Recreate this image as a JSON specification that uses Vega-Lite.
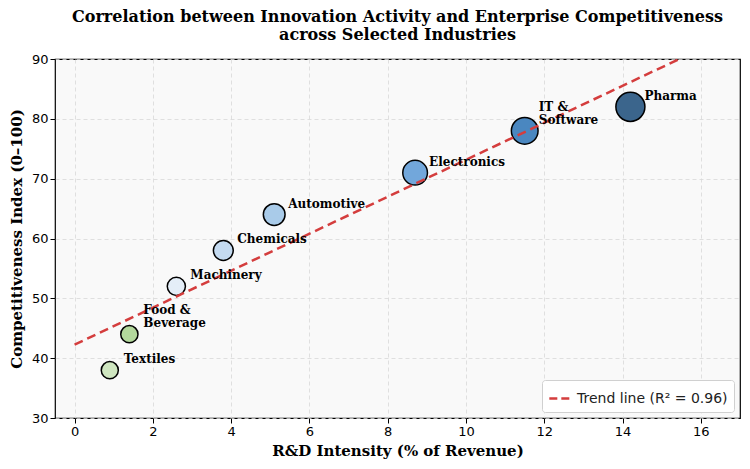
{
  "$schema": "https://vega.github.io/schema/vega-lite/v6.json",
  "description": "Innovation activity vs enterprise competitiveness, bubble chart with trend line.",
  "autosize": {"type": "none"},
  "padding": {"left": 55, "top": 59, "right": 10, "bottom": 51},
  "width": 685,
  "height": 359,
  "background": "white",
  "title": {
    "text": ["Correlation between Innovation Activity and Enterprise Competitiveness", "across Selected Industries"],
    "font": "DejaVu Serif",
    "fontSize": 16,
    "fontWeight": "bold",
    "color": "black",
    "anchor": "middle",
    "offset": 10,
    "lineHeight": 18
  },
  "config": {
    "view": {"stroke": "black", "strokeWidth": 1.2, "fill": "#f9f9f9"},
    "axis": {
      "labelFont": "DejaVu Sans",
      "labelFontSize": 13,
      "labelColor": "black",
      "titleFont": "DejaVu Serif",
      "titleFontSize": 15,
      "titleFontWeight": "bold",
      "titleColor": "black",
      "domain": false,
      "tickColor": "black",
      "tickSize": 5,
      "gridColor": "#d8d8d8",
      "gridDash": [4, 3],
      "gridWidth": 0.8
    },
    "legend": {
      "labelFont": "DejaVu Sans",
      "labelFontSize": 14,
      "labelColor": "#222"
    }
  },
  "data": {
    "values": [
      {"industry": "Textiles", "label": "Textiles", "rd": 0.9, "score": 38, "innovation": 14},
      {"industry": "Food & Beverage", "label": "Food &\nBeverage", "rd": 1.4, "score": 44, "innovation": 15},
      {"industry": "Machinery", "label": "Machinery", "rd": 2.6, "score": 52, "innovation": 20},
      {"industry": "Chemicals", "label": "Chemicals", "rd": 3.8, "score": 58, "innovation": 30},
      {"industry": "Automotive", "label": "Automotive", "rd": 5.1, "score": 64, "innovation": 42},
      {"industry": "Electronics", "label": "Electronics", "rd": 8.7, "score": 71, "innovation": 63},
      {"industry": "IT & Software", "label": "IT &\nSoftware", "rd": 11.5, "score": 78, "innovation": 79},
      {"industry": "Pharma", "label": "Pharma", "rd": 14.2, "score": 82, "innovation": 99}
    ]
  },
  "encoding": {
    "x": {
      "field": "rd",
      "type": "quantitative",
      "title": "R&D Intensity (% of Revenue)",
      "scale": {"domain": [-0.5, 17], "nice": false, "zero": false},
      "axis": {"values": [0, 2, 4, 6, 8, 10, 12, 14, 16], "titlePadding": 5}
    },
    "y": {
      "field": "score",
      "type": "quantitative",
      "title": "Competitiveness Index (0–100)",
      "scale": {"domain": [30, 90], "nice": false, "zero": false},
      "axis": {"values": [30, 40, 50, 60, 70, 80, 90], "titlePadding": 7}
    }
  },
  "layer": [
    {
      "mark": {"type": "circle", "stroke": "black", "strokeWidth": 1.5, "opacity": 1},
      "encoding": {
        "size": {
          "field": "innovation",
          "type": "quantitative",
          "scale": {"domain": [0, 100], "range": [200, 850], "zero": false},
          "legend": null
        },
        "color": {
          "field": "industry",
          "type": "nominal",
          "scale": {
            "domain": ["Textiles", "Food & Beverage", "Machinery", "Chemicals", "Automotive", "Electronics", "IT & Software", "Pharma"],
            "range": ["#cfe6c0", "#b3d89c", "#e4eef8", "#c4daf0", "#a9cbe9", "#72a7db", "#4a87c0", "#3b658c"]
          },
          "legend": null
        }
      }
    },
    {
      "transform": [{"regression": "score", "on": "rd", "extent": [0, 16.5]}],
      "mark": {"type": "line", "strokeWidth": 2.5, "strokeDash": [9, 5], "clip": true},
      "encoding": {
        "color": {
          "datum": "Trend line (R² = 0.96)",
          "type": "nominal",
          "scale": {"range": ["#d43d3d"]},
          "legend": {
            "title": null,
            "orient": "bottom-right",
            "offset": 6,
            "symbolType": "stroke",
            "symbolDash": [8, 4],
            "symbolStrokeWidth": 2.5,
            "symbolSize": 500,
            "padding": 6,
            "fillColor": "white",
            "strokeColor": "#d0d0d0",
            "cornerRadius": 3
          }
        }
      }
    },
    {
      "transform": [{"filter": "indexof(datum.label, '\\n') < 0"}],
      "mark": {
        "type": "text",
        "font": "DejaVu Serif",
        "fontSize": 12,
        "fontWeight": "bold",
        "align": "left",
        "baseline": "bottom",
        "dx": 14,
        "dy": -4,
        "color": "black"
      },
      "encoding": {"text": {"field": "label"}}
    },
    {
      "transform": [{"filter": "indexof(datum.label, '\\n') >= 0"}],
      "mark": {
        "type": "text",
        "font": "DejaVu Serif",
        "fontSize": 12,
        "fontWeight": "bold",
        "align": "left",
        "baseline": "bottom",
        "dx": 14,
        "dy": -17,
        "lineBreak": "\n",
        "lineHeight": 13,
        "color": "black"
      },
      "encoding": {"text": {"field": "label"}}
    }
  ],
  "resolve": {"scale": {"color": "independent"}}
}
